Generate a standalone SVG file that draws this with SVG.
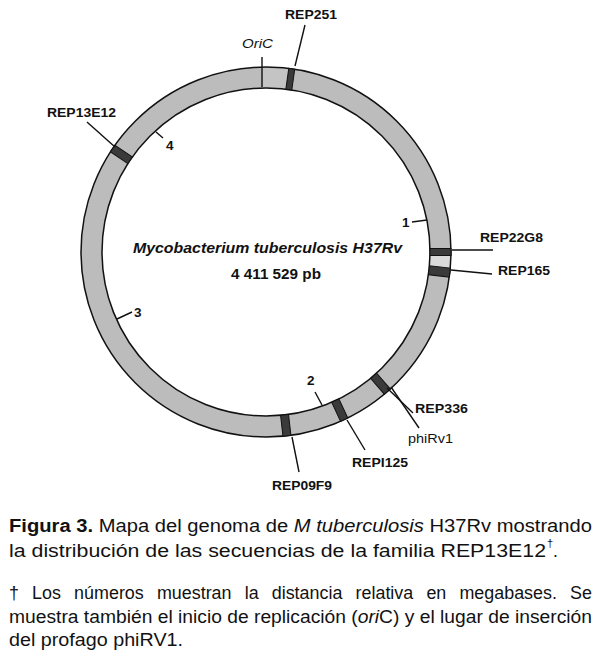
<svg xmlns="http://www.w3.org/2000/svg" width="600" height="662" viewBox="0 0 600 662">
<style>
.lbl{font-family:"Liberation Sans",Arial,sans-serif;font-weight:bold;font-size:13.5px;fill:#111}
.reg{font-family:"Liberation Sans",Arial,sans-serif;font-size:13.5px;fill:#111}
.cap{font-family:"Liberation Sans",Arial,sans-serif;font-size:17.5px;fill:#111}
.ctr{font-family:"Liberation Sans",Arial,sans-serif;font-weight:bold;font-size:14.5px;fill:#111}
.sup{font-family:"Liberation Sans",Arial,sans-serif;font-size:11px;fill:#111}
.ld{stroke:#111;stroke-width:1.4;fill:none}
.band{fill:#3a3a3a;stroke:#111;stroke-width:1}
</style>
<rect width="600" height="662" fill="#fff"/>
<g id="genome">
<circle cx="266" cy="252" r="174.5" fill="none" stroke="#bcbcbc" stroke-width="21"/>
<path d="M262.04,77.55 A174.5,174.5 0 0 1 287.27,78.80" fill="none" stroke="#c4c4c4" stroke-width="20"/>
<path d="M440.47,255.05 A174.5,174.5 0 0 1 439.86,266.91" fill="none" stroke="#dadada" stroke-width="20"/>
<circle cx="266" cy="252" r="185" fill="none" stroke="#111" stroke-width="1.5"/>
<circle cx="266" cy="252" r="164" fill="none" stroke="#111" stroke-width="1.5"/>
<text class="ctr" x="133" y="253" font-style="italic" textLength="269" lengthAdjust="spacingAndGlyphs">Mycobacterium tuberculosis H37Rv</text>
<text class="ctr" x="231" y="279" textLength="90" lengthAdjust="spacingAndGlyphs">4 411 529 pb</text>
</g>
<g id="oriC">
<text class="reg" x="242" y="48" font-style="italic" textLength="31" lengthAdjust="spacingAndGlyphs">OriC</text>
</g>
<g id="REP251">
<rect class="band" x="263" y="67" width="6" height="21" transform="rotate(8 266 252)"/>
<text class="lbl" x="285" y="19" textLength="52" lengthAdjust="spacingAndGlyphs">REP251</text>
</g>
<g id="REP13E12">
<rect class="band" x="262" y="67" width="8" height="21" transform="rotate(-56 266 252)"/>
<text class="lbl" x="47" y="117" textLength="69" lengthAdjust="spacingAndGlyphs">REP13E12</text>
</g>
<g id="REP22G8">
<rect class="band" x="262.5" y="67" width="7" height="21" transform="rotate(90 266 252)"/>
<text class="lbl" x="480" y="242" textLength="63" lengthAdjust="spacingAndGlyphs">REP22G8</text>
</g>
<g id="REP165">
<rect class="band" x="261.5" y="67" width="9" height="21" transform="rotate(96.4 266 252)"/>
<text class="lbl" x="498" y="275" textLength="52" lengthAdjust="spacingAndGlyphs">REP165</text>
</g>
<g id="REP336">
<rect class="band" x="262" y="67" width="8" height="21" transform="rotate(139 266 252)"/>
<text class="lbl" x="415" y="413" textLength="53" lengthAdjust="spacingAndGlyphs">REP336</text>
</g>
<g id="phiRv1">
<text class="reg" x="408" y="443" textLength="45" lengthAdjust="spacingAndGlyphs">phiRv1</text>
</g>
<g id="REPI125">
<rect class="band" x="262" y="67" width="8" height="21" transform="rotate(155 266 252)"/>
<text class="lbl" x="352" y="467" textLength="56" lengthAdjust="spacingAndGlyphs">REPI125</text>
</g>
<g id="REP09F9">
<rect class="band" x="262" y="67" width="8" height="21" transform="rotate(173.5 266 252)"/>
<text class="lbl" x="272" y="490" textLength="60" lengthAdjust="spacingAndGlyphs">REP09F9</text>
</g>
<g id="mb1"><text class="lbl" x="402" y="227">1</text></g>
<g id="mb2"><text class="lbl" x="307" y="385">2</text></g>
<g id="mb3"><text class="lbl" x="134" y="317">3</text></g>
<g id="mb4"><text class="lbl" x="166" y="150">4</text></g>
<g id="connectors">
<line class="ld" x1="262" y1="57" x2="262" y2="87"/>
<line class="ld" x1="295" y1="66" x2="305" y2="25"/>
<line class="ld" x1="87" y1="122" x2="115" y2="147"/>
<line class="ld" x1="156" y1="132" x2="163" y2="138"/>
<line class="ld" x1="412" y1="222" x2="427" y2="220"/>
<line class="ld" x1="452" y1="250" x2="493" y2="250"/>
<line class="ld" x1="451" y1="270" x2="492" y2="274"/>
<line class="ld" x1="387" y1="388" x2="413" y2="413"/>
<line class="ld" x1="391" y1="387" x2="419" y2="428"/>
<line class="ld" x1="347" y1="420" x2="365" y2="450"/>
<line class="ld" x1="315" y1="392" x2="322" y2="405"/>
<line class="ld" x1="292" y1="437" x2="299" y2="472"/>
<line class="ld" x1="117" y1="319" x2="132" y2="312"/>
</g>
<g id="caption">
<text class="cap" x="9" y="532" textLength="583" lengthAdjust="spacingAndGlyphs"><tspan font-weight="bold">Figura 3.</tspan> Mapa del genoma de <tspan font-style="italic">M tuberculosis</tspan> H37Rv mostrando</text>
<text class="cap" x="9" y="557" textLength="537" lengthAdjust="spacingAndGlyphs">la distribución de las secuencias de la familia REP13E12</text>
<text class="sup" x="547" y="547">†</text>
<text class="cap" x="553" y="557">.</text>
<text class="cap" x="9" y="599" word-spacing="8" textLength="583" lengthAdjust="spacingAndGlyphs">† Los números muestran la distancia relativa en megabases. Se</text>
<text class="cap" x="9" y="623" textLength="583" lengthAdjust="spacingAndGlyphs">muestra también el inicio de replicación (<tspan font-style="italic">ori</tspan>C) y el lugar de inserción</text>
<text class="cap" x="9" y="646" textLength="174" lengthAdjust="spacingAndGlyphs">del profago phiRV1.</text>
</g>
</svg>
